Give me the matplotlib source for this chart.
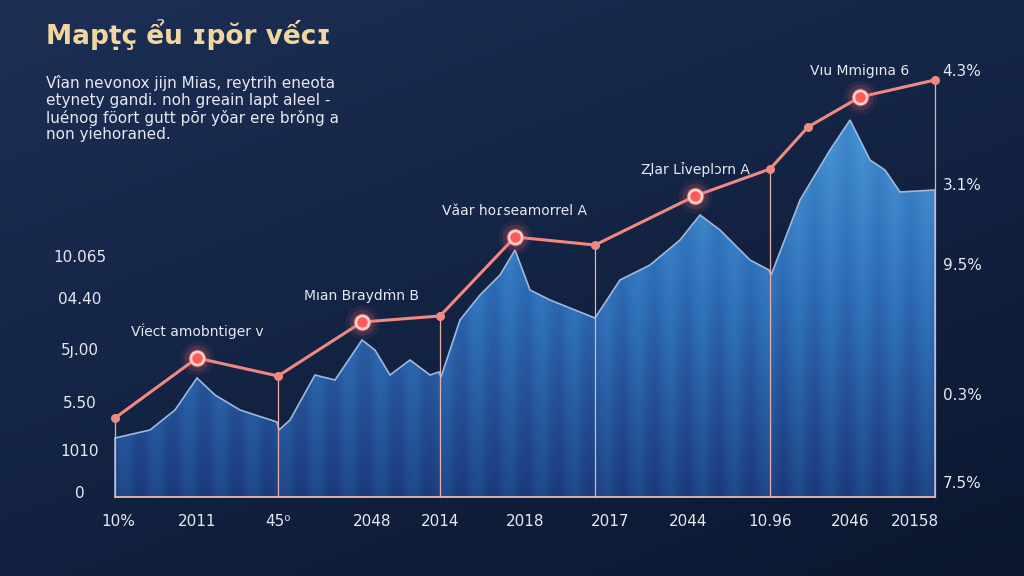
import numpy as np
import matplotlib.pyplot as plt
from matplotlib.patches import Polygon

# area profile (x position, height above baseline)
area_x = [115, 150, 175, 197, 215, 240, 277, 279, 290, 315, 335, 362, 375, 390, 410, 430, 439,
          441, 460, 480, 500, 515, 530, 550, 575, 595, 620, 650, 680, 700, 720, 750, 769,
          771, 775, 800, 830, 850, 870, 885, 900, 935]
area_h = [59, 67, 87, 119, 102, 87, 75, 67, 77, 122, 117, 157, 147, 122, 137, 122, 125,
          120, 177, 202, 222, 247, 207, 197, 187, 179, 217, 232, 257, 282, 267, 237, 227,
          222, 232, 297, 347, 377, 337, 327, 305, 307]

# trend line points
line_x = [115, 197, 278, 362, 440, 515, 595, 695, 770, 808, 860, 935]
line_h = [79, 139, 121, 175, 181, 260, 252, 301, 328, 370, 400, 417]
marked = [1, 3, 5, 7, 10]
notes = ["Vḯect amobntiger v", "Mıan Braydṁn B", "Vǎar hoɾseamorrel A",
         "Ⱬlar Lỉveplɔrn A", "Vıu Mmigına 6"]
vlines = [278, 440, 595, 770]

xticks = [118, 197, 278, 372, 440, 525, 610, 688, 770, 850, 915]
xlabels = ["10%", "2011", "45⁰", "2048", "2014", "2018", "2017", "2044", "10.96", "2046", "20158"]
lticks = [239, 197, 147, 94, 45, 4]
llabels = ["10.065", "04.40", "5ȷ.00", "5.50", "1010", "0"]
rticks = [425, 312, 232, 101, 13]
rlabels = ["4.3%", "3.1%", "9.5%", "0.3%", "7.5%"]

fig = plt.figure(figsize=(10.24, 5.76), dpi=100)
bg = fig.add_axes([0, 0, 1, 1])
yy, xx = np.mgrid[0:1:200j, 0:1:200j]
grad = 0.6 * yy + 0.4 * xx
bg.imshow(grad, cmap=plt.matplotlib.colors.LinearSegmentedColormap.from_list(
    "bg", ["#1c2f55", "#0b1730"]), extent=[0, 1, 0, 1], aspect="auto", origin="upper")
bg.axis("off")

ax = fig.add_axes([0, 0, 1, 1], facecolor="none")
ax.set_xlim(0, 1024)
ax.set_ylim(-79, 497)
ax.axis("off")

verts = [(area_x[0], 0)] + list(zip(area_x, area_h)) + [(area_x[-1], 0)]
poly = Polygon(verts, closed=True, facecolor="none", edgecolor="#9fb8e0", lw=1.2, zorder=3)
ax.add_patch(poly)
g = np.linspace(1, 0, 300)[:, None] * np.ones((1, 300))
stripes = 0.08 * np.sin(np.linspace(0, 160, 300))[None, :]
im = ax.imshow(g + stripes, cmap=plt.matplotlib.colors.LinearSegmentedColormap.from_list(
    "ar", ["#1b3a7a", "#2f6fb8", "#4a9ad8"]), extent=[115, 935, 0, 400],
    aspect="auto", origin="upper", zorder=2)
im.set_clip_path(poly)

for v in vlines:
    ax.plot([v, v], [0, line_h[line_x.index(v)]], color="#e8b0a8", lw=0.9, zorder=4)
ax.plot([935, 935], [0, 417], color="#e8b0a8", lw=0.9, zorder=4)
ax.plot([115, 935], [0, 0], color="#e8b0a8", lw=1.2, zorder=4)
ax.plot([115, 115], [0, 79], color="#e8b0a8", lw=0.9, zorder=4)

ax.plot(line_x, line_h, color="#f08a80", lw=2.2, zorder=5)
ax.scatter(line_x, line_h, s=30, color="#f08a80", zorder=6)
for i, t in zip(marked, notes):
    for s, a in [(600, 0.08), (350, 0.15), (180, 0.3)]:
        ax.scatter(line_x[i], line_h[i], s=s, color="#ff6a6a", alpha=a, zorder=6, lw=0)
    ax.scatter(line_x[i], line_h[i], s=90, facecolor="#ff5a5a", edgecolor="#ffd0c8", lw=2, zorder=7)
    ax.text(line_x[i], line_h[i] + 22, t, color="#e6e9f0", fontsize=10, ha="center", zorder=8)

for x, l in zip(xticks, xlabels):
    ax.text(x, -24, l, color="#e6e9f0", fontsize=11, ha="center", va="center")
for y, l in zip(lticks, llabels):
    ax.text(80, y, l, color="#e6e9f0", fontsize=11, ha="center", va="center")
for y, l in zip(rticks, rlabels):
    ax.text(962, y, l, color="#e6e9f0", fontsize=11, ha="center", va="center")

fig.text(0.045, 0.94, "Mapṭç ểu ɪpŏr vếcɪ", color="#f2d6a0", fontsize=19, weight="bold", va="center")
fig.text(0.045, 0.87, "Vîan nevonox jijn Mias, reytrih eneota\netynety gandi. noh greain lapt aleel -\n"
         "luénog föort gutt põr yǒar ere brǒng a\nnon yiehoraned.", color="#e6e9f0",
         fontsize=11, va="top", linespacing=1.15)

fig.savefig("out.png", dpi=100)
